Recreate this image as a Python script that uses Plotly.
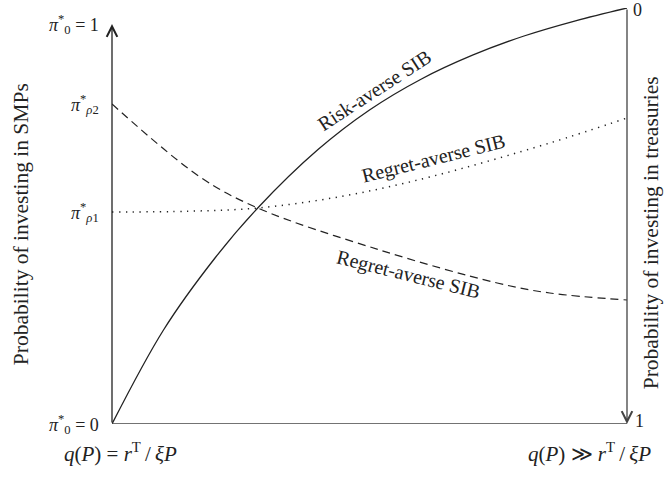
import plotly.graph_objects as go

# Schematic curves (x: 0 = q(P)=r^T/xiP, 1 = q(P)>>r^T/xiP ; y: probability of investing in SMPs)
risk_x = [0.0, 0.1, 0.2, 0.283, 0.4, 0.5, 0.6, 0.7, 0.8, 0.9, 1.0]
risk_y = [0.0, 0.235, 0.415, 0.54, 0.686, 0.785, 0.862, 0.922, 0.97, 1.008, 1.04]

regret_up_x = [0.0, 0.15, 0.283, 0.45, 0.617, 0.85, 1.0]
regret_up_y = [0.53, 0.532, 0.54, 0.57, 0.6175, 0.7025, 0.765]

regret_down_x = [0.0, 0.171, 0.283, 0.52, 0.748, 0.85, 1.0]
regret_down_y = [0.8, 0.6175, 0.54, 0.435, 0.3525, 0.3275, 0.31]

left_ticks = [1.0, 0.8, 0.53, 0.0]
left_labels = ["<i>π</i><sup>*</sup><sub>0</sub> = 1",
               "<i>π</i><sup>*</sup><sub><i>ρ</i>2</sub>",
               "<i>π</i><sup>*</sup><sub><i>ρ</i>1</sub>",
               "<i>π</i><sup>*</sup><sub>0</sub> = 0"]
right_labels = ["0", "1"]
bottom_labels = ["<i>q</i>(<i>P</i>) = <i>r</i><sup>T</sup>\u2009/\u2009<i>ξP</i>",
                 "<i>q</i>(<i>P</i>) ≫ <i>r</i><sup>T</sup>\u2009/\u2009<i>ξP</i>"]
ytop = 1.04

FONT = "Liberation Serif"
INK = "#222222"

fig = go.Figure()
fig.add_trace(go.Scatter(x=risk_x, y=risk_y, mode="lines", line=dict(color=INK, width=1.3, shape="spline")))
fig.add_trace(go.Scatter(x=regret_up_x, y=regret_up_y, mode="lines",
                         line=dict(color=INK, width=1.5, shape="spline", dash="1.3px,5.5px")))
fig.add_trace(go.Scatter(x=regret_down_x, y=regret_down_y, mode="lines",
                         line=dict(color=INK, width=1.2, shape="spline", dash="8px,5px")))

# axes
fig.add_shape(type="line", x0=0, x1=1, y0=0, y1=0, xref="x", yref="y", line=dict(color="#444", width=1.6))
fig.add_annotation(x=0, y=1.0, ax=0, ay=0, xref="x", yref="y", axref="x", ayref="y", text="",
                   showarrow=True, arrowhead=5, arrowsize=1.6, arrowwidth=1.3, arrowcolor=INK)
fig.add_annotation(x=1, y=0, ax=1, ay=ytop, xref="x", yref="y", axref="x", ayref="y", text="",
                   showarrow=True, arrowhead=5, arrowsize=1.6, arrowwidth=1.3, arrowcolor="#444")

for yv, lab in zip(left_ticks, left_labels):
    fig.add_annotation(x=0, y=yv, xref="x", yref="y", text=lab, showarrow=False, xanchor="right",
                       xshift=-11, font=dict(family=FONT, size=18, color=INK))
fig.add_annotation(x=1, y=ytop, xref="x", yref="y", text=right_labels[0], showarrow=False,
                   xanchor="left", xshift=4, yshift=-2, font=dict(family=FONT, size=18, color=INK))
fig.add_annotation(x=1, y=0, xref="x", yref="y", text=right_labels[1], showarrow=False,
                   xanchor="left", xshift=6, yshift=3, font=dict(family=FONT, size=18, color=INK))
fig.add_annotation(x=0, y=0, xref="x", yref="y", text=bottom_labels[0], showarrow=False,
                   xanchor="center", yanchor="top", xshift=8, yshift=-13, font=dict(family=FONT, size=21, color=INK))
fig.add_annotation(x=1, y=0, xref="x", yref="y", text=bottom_labels[1], showarrow=False,
                   xanchor="center", yanchor="top", xshift=-38, yshift=-13, font=dict(family=FONT, size=21, color=INK))

# curve labels
fig.add_annotation(x=0.51, y=0.835, xref="x", yref="y", text="Risk-averse SIB", showarrow=False,
                   textangle=-33, font=dict(family=FONT, size=20, color=INK))
fig.add_annotation(x=0.625, y=0.663, xref="x", yref="y", text="Regret-averse SIB", showarrow=False,
                   textangle=-14, font=dict(family=FONT, size=20, color=INK))
fig.add_annotation(x=0.575, y=0.375, xref="x", yref="y", text="Regret-averse SIB", showarrow=False,
                   textangle=14, font=dict(family=FONT, size=20, color=INK))

# axis titles (paper coordinates so they are drawn outside the plotting range)
fig.add_annotation(x=-0.177, y=0.48, xref="paper", yref="paper", text="Probability of investing in SMPs",
                   xanchor="center", yanchor="middle",
                   showarrow=False, textangle=-90, font=dict(family=FONT, size=21.5, color=INK))
fig.add_annotation(x=1.046, y=0.46, xref="paper", yref="paper", text="Probability of investing in treasuries",
                   xanchor="center", yanchor="middle",
                   showarrow=False, textangle=-90, font=dict(family=FONT, size=21.5, color=INK))

fig.update_layout(
    width=667, height=477, margin=dict(l=112, r=40, t=8, b=53),
    paper_bgcolor="white", plot_bgcolor="white", showlegend=False,
    xaxis=dict(range=[0, 1], visible=False, fixedrange=True),
    yaxis=dict(range=[0, ytop], visible=False, fixedrange=True),
)
fig.write_html("out.html", config={"displayModeBar": False},
               post_script="document.body.style.margin='0';")
